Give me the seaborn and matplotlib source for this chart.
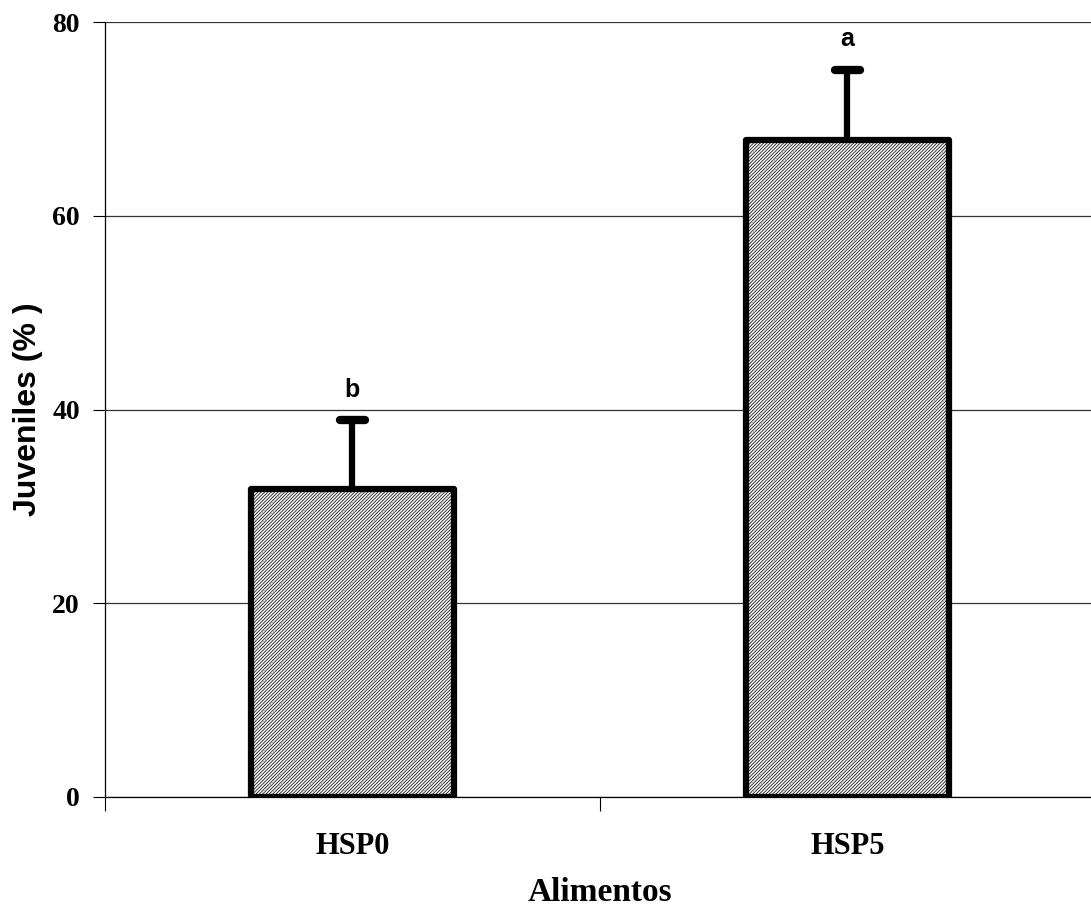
import os
import matplotlib
matplotlib.use("Agg")
import matplotlib.pyplot as plt
from matplotlib import font_manager
from matplotlib.markers import MarkerStyle
import seaborn as sns
import pandas as pd

# data
alimentos = ["HSP0", "HSP5"]
juveniles = [31.8, 67.8]
error_sup = [7.1, 7.3]
letras = ["b", "a"]

df = pd.DataFrame({"alimento": alimentos, "juveniles": juveniles})


def fuente(archivo, familia):
    # pick the exact bold file so the Narrow variant is not chosen
    for f in font_manager.findSystemFonts():
        if os.path.basename(f) == archivo:
            return font_manager.FontProperties(fname=f)
    return font_manager.FontProperties(family=familia, weight="bold")


serif_b = fuente("LiberationSerif-Bold.ttf", "Liberation Serif")
sans_b = fuente("LiberationSans-Bold.ttf", "Liberation Sans")

sns.set_style("white")
plt.rcParams["hatch.linewidth"] = 0.5
plt.rcParams["hatch.color"] = "#7a7a7a"

fig = plt.figure(figsize=(10.91, 9.07), dpi=100)
ax = fig.add_axes([0.0962, 0.1213, 0.9074, 0.8544])

sns.barplot(x="alimento", y="juveniles", data=df, ax=ax, width=0.41,
            color="#f2f2f2", edgecolor="black", linewidth=4.5, zorder=3)
for bar in ax.patches:
    bar.set_hatch("//////////")
    bar.set_joinstyle("round")

# only the upper half of the error bar
_, caps, _ = ax.errorbar(range(len(alimentos)), juveniles,
                         yerr=[[0] * len(error_sup), error_sup],
                         fmt="none", ecolor="black", elinewidth=4.5,
                         capsize=9, capthick=6, zorder=2)
caps[0].set_visible(False)
caps[1].set_marker(MarkerStyle("_", capstyle="round"))

for i, (v, e, l) in enumerate(zip(juveniles, error_sup, letras)):
    ax.text(i, v + e + 2.4, l, ha="center", va="baseline", fontproperties=sans_b,
            fontsize=18, color="black")

ax.set_xlim(-0.5, 1.5)
ax.set_ylim(0, 80)
ax.set_yticks([0, 20, 40, 60, 80])
ax.set_xticks([-0.5, 0.5, 1.5])
ax.set_xticklabels(["", "", ""])
ax.set_xticks([0, 1], minor=True)
ax.set_xticklabels(alimentos, minor=True)
ax.tick_params(axis="x", which="major", direction="out", length=10, width=0.8,
               color="black", bottom=True)
ax.tick_params(axis="x", which="minor", length=0, pad=25)
ax.tick_params(axis="y", direction="out", length=9, width=0.8, color="black",
               left=True, pad=9)
ax.yaxis.grid(True, color="#333333", linewidth=0.9, zorder=0)
ax.set_axisbelow(True)

for lab in ax.get_yticklabels():
    lab.set_fontproperties(serif_b)
    lab.set_fontsize(20)
    lab.set_color("black")
for lab in ax.get_xticklabels(minor=True):
    lab.set_fontproperties(serif_b)
    lab.set_fontsize(22)
    lab.set_color("black")

for s in ["top", "right"]:
    ax.spines[s].set_visible(False)
for s in ["left", "bottom"]:
    ax.spines[s].set_color("black")
    ax.spines[s].set_linewidth(0.9)

ax.set_xlabel("Alimentos", fontproperties=serif_b, fontsize=24, color="black")
ax.set_ylabel("Juveniles (% )", fontproperties=sans_b, fontsize=23,
              color="black")
ax.xaxis.set_label_coords(0.5, -0.103)
ax.yaxis.set_label_coords(-0.063, 0.5)

fig.savefig("out.png", dpi=100)
